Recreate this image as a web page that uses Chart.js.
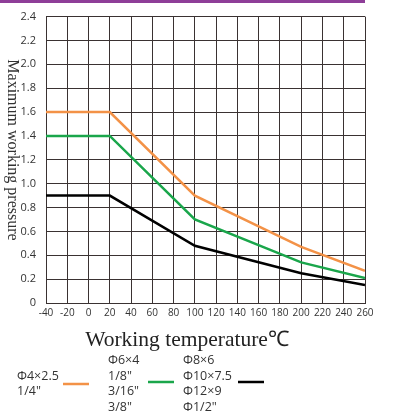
<!DOCTYPE html>
<html><head><meta charset="utf-8">
<script src="https://cdn.jsdelivr.net/npm/chart.js@4"></script>
<style>html,body{margin:0;padding:0;background:#fff}#wrap{position:relative;width:407px;height:416px}</style>
</head><body><div id="wrap"><canvas id="c" width="407" height="416"></canvas></div>
<script>
const temps = [-40, 20, 100, 200, 260];
const orangeVals = [1.6, 1.6, 0.9, 0.47, 0.27];
const greenVals = [1.4, 1.4, 0.7, 0.34, 0.21];
const blackVals = [0.9, 0.9, 0.48, 0.25, 0.15];
const orangeLabel = ["Φ4×2.5", "1/4\""];
const greenLabel = ["Φ6×4", "1/8\"", "3/16\"", "3/8\""];
const blackLabel = ["Φ8×6", "Φ10×7.5", "Φ12×9", "Φ1/2\""];
const xTitle = "Working temperature℃";
const yTitle = "Maximum working pressure";

const toPts = v => temps.map((t, i) => ({x: t, y: v[i]}));
const gridColor = '#3a3232';

const decor = {
  id: 'decor',
  beforeDraw(chart) {
    const ctx = chart.ctx;
    ctx.save();
    ctx.fillStyle = '#8E3E98';
    ctx.fillRect(0, 0, 365, 3);
    ctx.restore();
  },
  afterDraw(chart) {
    const ctx = chart.ctx;
    ctx.save();
    ctx.fillStyle = '#333';
    ctx.font = '16px "Liberation Serif", "Times New Roman", serif';
    ctx.translate(12, 150);
    ctx.rotate(Math.PI / 2);
    ctx.textAlign = 'center';
    ctx.textBaseline = 'middle';
    ctx.fillText(yTitle, 0, 0);
    ctx.restore();

    ctx.save();
    ctx.fillStyle = '#222';
    ctx.font = '21.5px "Liberation Serif", "Times New Roman", serif';
    ctx.textAlign = 'center';
    ctx.textBaseline = 'middle';
    ctx.fillText(xTitle, 187, 340);
    ctx.restore();

    const items = [
      {ds: 0, tx: 17, lx: 63, ly: 384},
      {ds: 1, tx: 108, lx: 148, ly: 382},
      {ds: 2, tx: 183, lx: 238, ly: 382}
    ];
    ctx.save();
    ctx.font = '12.5px "Open Sans", sans-serif';
    ctx.fillStyle = '#333';
    ctx.textBaseline = 'middle';
    const lh = 15.4, cy = 384;
    items.forEach(it => {
      const d = chart.data.datasets[it.ds];
      const lines = d.label;
      const y0 = cy - (lines.length - 1) * lh / 2;
      lines.forEach((s, i) => ctx.fillText(s, it.tx, y0 + i * lh));
      ctx.strokeStyle = d.borderColor;
      ctx.lineWidth = 2.5;
      ctx.beginPath();
      ctx.moveTo(it.lx, it.ly);
      ctx.lineTo(it.lx + 26, it.ly);
      ctx.stroke();
    });
    ctx.restore();
  }
};

new Chart(document.getElementById('c'), {
  type: 'line',
  data: {
    datasets: [
      {label: orangeLabel, data: toPts(orangeVals), borderColor: '#F39247', borderWidth: 2.5, pointRadius: 0, tension: 0},
      {label: greenLabel, data: toPts(greenVals), borderColor: '#1AA64B', borderWidth: 2.5, pointRadius: 0, tension: 0},
      {label: blackLabel, data: toPts(blackVals), borderColor: '#000000', borderWidth: 2.5, pointRadius: 0, tension: 0}
    ]
  },
  options: {
    responsive: false,
    animation: false,
    layout: {padding: {left: 0, right: 42, top: 15, bottom: 0}},
    plugins: {legend: {display: false}, tooltip: {enabled: false}},
    scales: {
      x: {
        type: 'linear', min: -40, max: 260,
        ticks: {stepSize: 20, color: '#333', font: {family: '"Open Sans", sans-serif', size: 10}, padding: 4, maxRotation: 0, autoSkip: false},
        grid: {color: gridColor, lineWidth: 1, drawTicks: false},
        border: {color: gridColor, width: 1},
        afterFit(s) { s.height = 113; }
      },
      y: {
        min: 0, max: 2.4,
        ticks: {stepSize: 0.2, color: '#333', font: {family: '"Open Sans", sans-serif', size: 11}, padding: 10,
          callback: v => Math.abs(v) < 1e-9 ? '0' : (Math.round(v * 10) / 10).toFixed(1)},
        grid: {color: gridColor, lineWidth: 1, drawTicks: false},
        border: {color: gridColor, width: 1},
        afterFit(s) { s.width = 46; }
      }
    }
  },
  plugins: [decor]
});
</script></body></html>
